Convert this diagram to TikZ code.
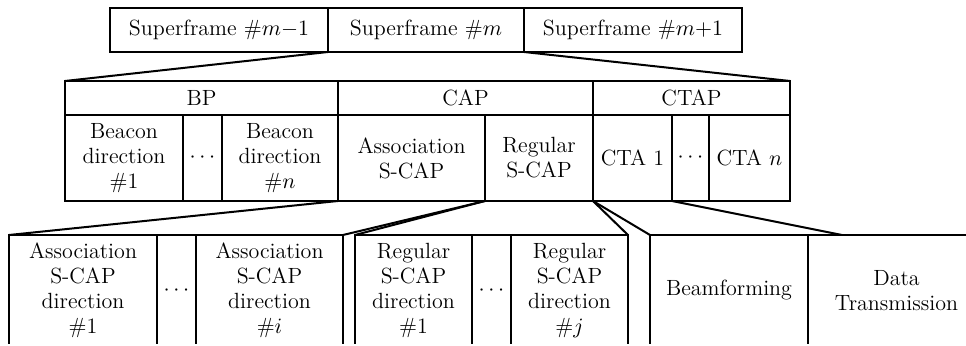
\documentclass[tikz,border=0pt]{standalone}
\usepackage{tikz}

\tikzstyle{slot} = [draw,rectangle,anchor=north west,inner sep=0pt,outer sep=0pt,align=center,line width=1pt,font=\fontsize{11}{12.5}\selectfont]
\tikzstyle{framebox} = [slot,minimum height=22pt]
\tikzstyle{periodbox} = [slot,minimum height=17pt]
\tikzstyle{partbox} = [slot,minimum height=43pt]
\tikzstyle{detailbox} = [slot,minimum height=55.5pt]
\tikzstyle{zoomline} = [line width=1pt]

\begin{document}
\begin{tikzpicture}[x=0.5pt,y=-0.5pt]
		\useasboundingbox (0,0) rectangle (966,346);
		\clip (0,0) rectangle (966,344);
		\node[framebox,minimum width=109pt] (sfprev) at (110,8) {Superframe \#$m{-}1$};
		\node[framebox,minimum width=98pt] (sfcur) at (328,8) {Superframe \#$m$};
		\node[framebox,minimum width=109pt] (sfnext) at (524,8) {Superframe \#$m{+}1$};
		\node[periodbox,minimum width=136.5pt] (bp) at (65,81) {BP};
		\node[periodbox,minimum width=127.5pt] (cap) at (338,81) {CAP};
		\node[periodbox,minimum width=98.5pt] (ctap) at (593,81) {CTAP};
		\node[partbox,minimum width=59pt] (bdfirst) at (65,115) {Beacon\\direction\\\#1};
		\node[partbox,minimum width=19.5pt] (bdots) at (183,115) {$\cdots$};
		\node[partbox,minimum width=58pt] (bdlast) at (222,115) {Beacon\\direction\\\#$n$};
		\node[partbox,minimum width=73.5pt] (ascap) at (338,115) {Association\\S-CAP};
		\node[partbox,minimum width=54pt] (rscap) at (485,115) {Regular\\S-CAP};
		\node[partbox,minimum width=39.5pt] (ctafirst) at (593,115) {CTA 1};
		\node[partbox,minimum width=18.5pt] (ctadots) at (672,115) {$\cdots$};
		\node[partbox,minimum width=40.5pt] (ctalast) at (709,115) {CTA $n$};
		\node[detailbox,minimum width=74pt] (asdfirst) at (9,235) {Association\\S-CAP\\direction\\\#1};
		\node[detailbox,minimum width=19.5pt] (asdots) at (157,235) {$\cdots$};
		\node[detailbox,minimum width=73.5pt] (asdlast) at (196,235) {Association\\S-CAP\\direction\\\#$i$};
		\node[detailbox,minimum width=58.5pt] (rsdfirst) at (355,235) {Regular\\S-CAP\\direction\\\#1};
		\node[detailbox,minimum width=19.5pt] (rsdots) at (472,235) {$\cdots$};
		\node[detailbox,minimum width=58.5pt] (rsdlast) at (511,235) {Regular\\S-CAP\\direction\\\#$j$};
		\node[detailbox,minimum width=79pt] (bf) at (650,235) {Beamforming};
		\node[detailbox,minimum width=88.5pt] (dt) at (808,235) {Data\\Transmission};
		\coordinate (dtmeet) at (842,235);
		\draw[zoomline] (sfcur.south west) -- (bp.north west);
		\draw[zoomline] (sfcur.south east) -- (ctap.north east);
		\draw[zoomline] (ascap.south west) -- (asdfirst.north west);
		\draw[zoomline] (ascap.south east) -- (asdlast.north east);
		\draw[zoomline] (rscap.south west) -- (rsdfirst.north west);
		\draw[zoomline] (rscap.south east) -- (rsdlast.north east);
		\draw[zoomline] (ctafirst.south west) -- (bf.north west);
		\draw[zoomline] (ctafirst.south east) -- (dtmeet);
		\end{tikzpicture}
\end{document}
